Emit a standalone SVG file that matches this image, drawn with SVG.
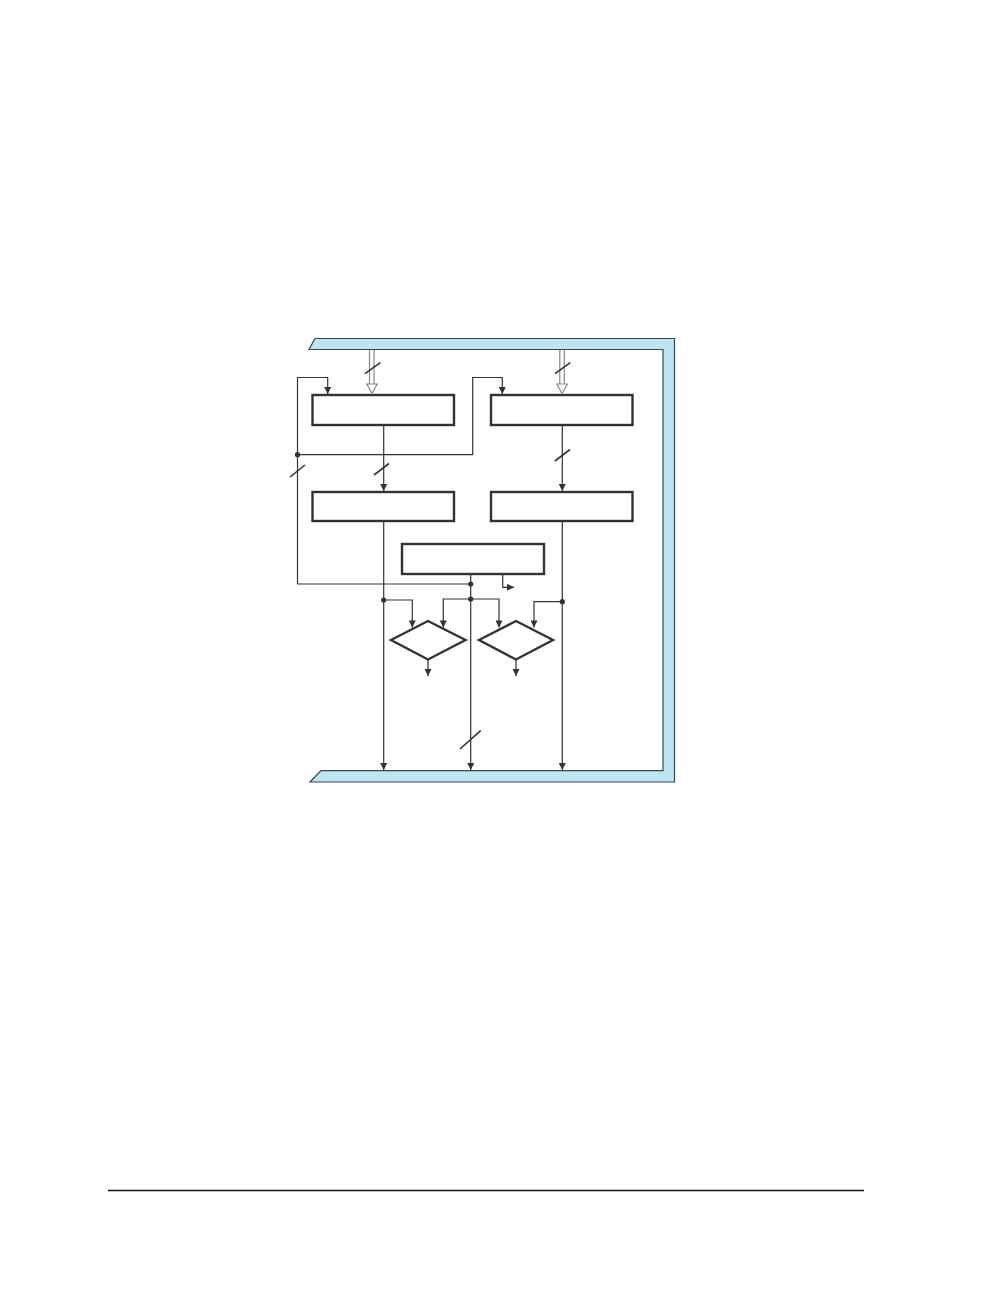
<svg xmlns="http://www.w3.org/2000/svg" width="1008" height="1296" viewBox="0 0 1008 1296">
<style>
.bus{fill:#bde6f3;stroke:#3c4450;stroke-width:1.2;stroke-linejoin:miter}
.box{fill:#fff;stroke:#333;stroke-width:2.4}
.w{fill:none;stroke:#333;stroke-width:1.2}
.sl{fill:none;stroke:#333;stroke-width:1.6}
.dbl{fill:none;stroke:#888;stroke-width:1.2}
.dot{fill:#333}
.ah{fill:#333}
</style>
<defs>
<marker id="a" viewBox="0 0 10 10" refX="10" refY="5" markerWidth="10" markerHeight="7" markerUnits="userSpaceOnUse" orient="auto">
<path d="M0,0 L10,5 L0,10 Z" class="ah"/>
</marker>
</defs>
<rect width="1008" height="1296" fill="#fff"/>
<g id="bus">
<path class="bus" d="M315,338.5 L674.5,338.5 L674.5,782 L310,782 L321,770.7 L663,770.7 L663,349.5 L309,349.5 Z"/>
</g>
<g id="reg1"><rect class="box" x="312.5" y="395" width="141.5" height="30"/></g>
<g id="reg2"><rect class="box" x="491" y="395" width="141.5" height="30"/></g>
<g id="reg3"><rect class="box" x="312.5" y="492" width="141.5" height="29"/></g>
<g id="reg4"><rect class="box" x="491" y="492" width="141.5" height="29"/></g>
<g id="unit5"><rect class="box" x="402" y="544" width="142" height="30"/></g>
<g id="cmp1"><path class="box" d="M391,640 L428,621 L465.5,640 L428,659.5 Z"/></g>
<g id="cmp2"><path class="box" d="M479,640 L516,621 L553,640 L516,659.5 Z"/></g>
<g id="connectors">
<!-- double-line bus inputs -->
<path class="dbl" d="M369.5,350 V384 M374,350 V384"/>
<path d="M366.8,384 L377.2,384 L372,393.5 Z" fill="#fff" stroke="#888" stroke-width="1.2"/>
<path class="sl" d="M365,373.7 L380.3,362.7"/>
<path class="dbl" d="M559.8,350 V384 M564.3,350 V384"/>
<path d="M557,384 L567.4,384 L562.1,393.5 Z" fill="#fff" stroke="#888" stroke-width="1.2"/>
<path class="sl" d="M555,373.7 L570.3,362.7"/>
<!-- feedback loops -->
<path class="w" d="M297.5,584 V377.5 H327.7 V394" marker-end="url(#a)"/>
<path class="w" d="M297.5,454.7 H472.7 V377.5 H502.3 V394" marker-end="url(#a)"/>
<path class="w" d="M297.5,584 H470.7"/>
<circle class="dot" cx="297.5" cy="454.7" r="2.6"/>
<path class="sl" d="M290,477 L305,465"/>
<!-- reg1 to reg3 -->
<path class="w" d="M383.7,425 V491" marker-end="url(#a)"/>
<path class="sl" d="M374,475 L389,463.5"/>
<!-- reg2 to reg4 -->
<path class="w" d="M562.3,425 V491" marker-end="url(#a)"/>
<path class="sl" d="M555,461 L570,449.5"/>
<!-- reg3 down to bus -->
<path class="w" d="M383.7,521 V770" marker-end="url(#a)"/>
<circle class="dot" cx="383.7" cy="600" r="2.6"/>
<path class="w" d="M383.7,600 H412.3 V627.5" marker-end="url(#a)"/>
<!-- unit5 down to bus -->
<path class="w" d="M470.7,574 V770" marker-end="url(#a)"/>
<circle class="dot" cx="470.7" cy="584" r="2.6"/>
<circle class="dot" cx="470.7" cy="599" r="2.6"/>
<path class="w" d="M470.7,599 H443.3 V627.5" marker-end="url(#a)"/>
<path class="w" d="M470.7,599 H499 V627.5" marker-end="url(#a)"/>
<path class="sl" d="M460,749 L480.7,730.7"/>
<path class="w" d="M502.7,574 V587.3 H514" marker-end="url(#a)"/>
<!-- reg4 down to bus -->
<path class="w" d="M562.3,521 V770" marker-end="url(#a)"/>
<circle class="dot" cx="562.3" cy="601.7" r="2.6"/>
<path class="w" d="M562.3,601.7 H534 V627.5" marker-end="url(#a)"/>
<!-- comparator outputs -->
<path class="w" d="M428,659.5 V676" marker-end="url(#a)"/>
<path class="w" d="M516,659.5 V676" marker-end="url(#a)"/>
</g>
<g id="footer">
<path d="M108,1190.5 H864" stroke="#111" stroke-width="1.3"/>
</g>
</svg>
